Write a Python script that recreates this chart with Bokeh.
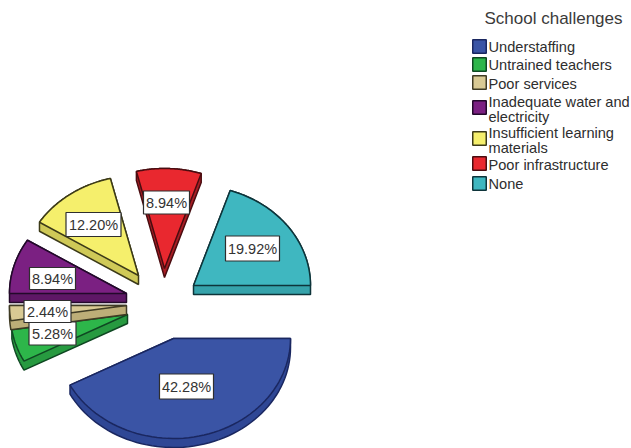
import numpy as np
from bokeh.core.properties import value
from bokeh.embed import file_html
from bokeh.models import Range1d
from bokeh.plotting import figure
from bokeh.resources import INLINE

# Share of respondents per school challenge, clockwise from 3 o'clock
categories = ["Understaffing", "Untrained teachers", "Poor services",
              "Inadequate water and\nelectricity", "Insufficient learning\nmaterials",
              "Poor infrastructure", "None"]
shares = [42.28, 5.28, 2.44, 8.94, 12.20, 8.94, 19.92]
share_labels = ["42.28%", "5.28%", "2.44%", "8.94%", "12.20%", "8.94%", "19.92%"]

top_colors = ["#3A54A5", "#2DB64A", "#D9CA94", "#7B2082", "#F5EF6C", "#E9282F", "#3FB7C0"]
wall_colors = ["#2F4795", "#279A40", "#BDAE78", "#5E1766", "#CFC957", "#A81D24", "#36A3AB"]
edge_colors = ["#1A2760", "#0F4722", "#3F3B24", "#22092A", "#3C3A18", "#4A0C10", "#0E343A"]

# Layout, in page pixels
apexes = [(173, 338), (127, 314), (126, 305), (126, 293), (138, 275), (164, 268), (193, 285)]
label_centres = [(186, 386), (52, 333), (47, 311), (52, 278), (93, 224), (166, 202), (252, 248)]
box_widths = [54, 47, 47, 46, 55, 46, 54]
box_heights = [25, 23, 22, 22, 24, 23, 25]
RX, RY, DEPTH = 117, 100, 9

legend_swatch_y = [46, 64, 82, 107, 138, 163, 183]
legend_line_y = [[46], [64], [83], [101, 116], [132, 147], [164], [183]]


def convex_hull(points):
    pts = sorted(set(map(tuple, points)))

    def half(seq):
        out = []
        for q in seq:
            while len(out) > 1 and ((out[-1][0] - out[-2][0]) * (q[1] - out[-2][1])
                                    - (out[-1][1] - out[-2][1]) * (q[0] - out[-2][0])) <= 0:
                out.pop()
            out.append(q)
        return out[:-1]

    return half(pts) + half(pts[::-1])


p = figure(width=631, height=448, output_backend="svg", toolbar_location=None,
           x_range=Range1d(0, 631), y_range=Range1d(448, 0),
           min_border=0, outline_line_color=None)
p.axis.visible = False
p.grid.visible = False

# Exploded, tilted pie: each wedge is a darker extruded body under a lit top face
edges = np.cumsum([0] + shares) / 100 * 2 * np.pi
for i, share in enumerate(shares):
    cx, cy = apexes[i]
    theta = np.linspace(edges[i], edges[i + 1], 60)
    xs = np.r_[cx, cx + RX * np.cos(theta)]
    ys = np.r_[cy, cy + RY * np.sin(theta)]
    hull = convex_hull(list(zip(xs, ys)) + list(zip(xs, ys + DEPTH)))
    p.patch([q[0] for q in hull], [q[1] for q in hull], fill_color=wall_colors[i],
            line_color=edge_colors[i], line_width=1.5)
    p.patch(xs, ys, fill_color=top_colors[i], line_color=edge_colors[i], line_width=1.5)

# Percentage tags
p.rect([c[0] for c in label_centres], [c[1] for c in label_centres],
       width=box_widths, height=box_heights, fill_color="white",
       line_color="#2E2E2E", line_width=1.2)
p.text([c[0] for c in label_centres], [c[1] for c in label_centres], text=share_labels,
       text_align="center", text_baseline="middle", text_color="#333333",
       text_font=value("Liberation Sans"), text_font_size="14.5px")

# Legend
p.text([553], [18], text=["School challenges"], text_align="center", text_baseline="middle",
       text_color="#3A3A3A", text_font=value("Liberation Sans"), text_font_size="17px")
p.rect([479] * len(categories), legend_swatch_y, width=13.5, height=13.5,
       fill_color=top_colors, line_color=edge_colors, line_width=1.5)
for name, rows in zip(categories, legend_line_y):
    for line, y in zip(name.split("\n"), rows):
        p.text([488], [y], text=[line], text_align="left", text_baseline="middle",
               text_color="#2E2E2E", text_font=value("Liberation Sans"), text_font_size="14.6px")

open("out.html", "w").write(file_html(p, INLINE))
